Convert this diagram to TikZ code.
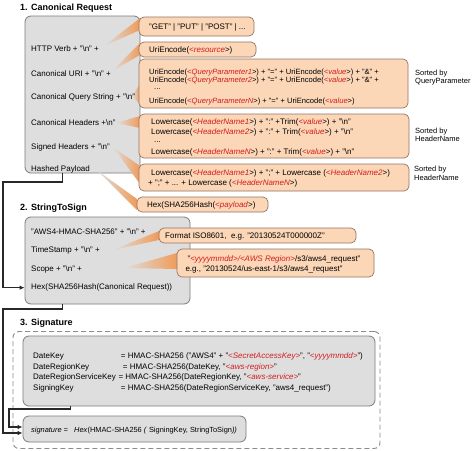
\documentclass[tikz,border=0pt]{standalone}
\usepackage{fontspec}
\setmainfont{Liberation Sans}
\usetikzlibrary{arrows.meta,calc}
\pgfdeclarelayer{back}
\pgfdeclarelayer{mid}
\pgfsetlayers{back,mid,main}
\definecolor{boxgray}{RGB}{222,222,222}
\definecolor{boxedge}{RGB}{125,125,125}
\definecolor{peach}{RGB}{251,214,183}
\definecolor{peachedge}{RGB}{150,118,98}
\definecolor{wedgec}{RGB}{240,155,90}
\definecolor{redtxt}{RGB}{210,30,30}
\definecolor{linecol}{RGB}{40,40,40}
\definecolor{dashcol}{RGB}{140,140,140}
\newcommand{\rt}[1]{\textcolor{redtxt}{\textit{#1}}}
\newcommand{\bsn}{\textbackslash n}
\begin{document}
\begin{tikzpicture}[x=1pt,y=-1pt,
 txt/.style={anchor=base west,inner sep=0pt,font=\fontsize{8}{9.6}\selectfont},
 qtxt/.style={anchor=base west,inner sep=0pt,font=\fontsize{7.6}{9}\selectfont},
 note/.style={anchor=base west,inner sep=0pt,font=\fontsize{7.5}{9}\selectfont},
 sigt/.style={anchor=base west,inner sep=0pt,font=\fontsize{7.4}{9}\selectfont},
 ttl/.style={anchor=base west,inner sep=0pt,font=\bfseries\fontsize{9}{11}\selectfont},
 gbox/.style={draw=boxedge,fill=boxgray,rounded corners=6pt,line width=0.8pt,inner sep=0pt},
 obox/.style={draw=peachedge,fill=peach,rounded corners=5pt,line width=0.7pt,inner sep=0pt},
 dbox/.style={draw=dashcol,dash pattern=on 5pt off 3pt,rounded corners=6pt,line width=0.9pt,inner sep=0pt},
 conn/.style={draw=linecol,line width=1.1pt,-{Latex[length=5pt,width=4.5pt]}},
 wedge/.style={left color=boxgray,right color=wedgec},
]
\begin{pgfonlayer}{back}
\fill[white] (0,0) rectangle (474,450);
\end{pgfonlayer}
\useasboundingbox (0,0) rectangle (474,450);

% ---------- 1. Canonical Request ----------
\node[ttl] (h1) at (20,10.5) {1. Canonical Request};
\begin{pgfonlayer}{back}
\node[gbox,minimum width=115pt,minimum height=157pt] (cr) at (82.5,94.5) {};
\end{pgfonlayer}
\begin{pgfonlayer}{mid}
\shade[wedge] (104,46) -- (140,18) -- (140,30) -- cycle;
\shade[wedge] (112,71) -- (140,43) -- (140,55) -- cycle;
\shade[wedge] (132,96) -- (140,84) -- (140,104) -- cycle;
\shade[wedge] (116,123) -- (140,116) -- (140,128) -- cycle;
\shade[wedge] (113,147) -- (140,166) -- (140,184) -- cycle;
\shade[wedge] (98,171) -- (137,199) -- (137,210) -- cycle;
\end{pgfonlayer}
\node[txt] (t1) at (31,51) {HTTP Verb + "\bsn" +};
\node[txt] (t2) at (31,76) {Canonical URI + "\bsn" +};
\node[txt] (t3) at (31,99.5) {Canonical Query String + "\bsn"};
\node[txt] (t4) at (31,125) {Canonical Headers +\bsn"};
\node[txt] (t5) at (31,149) {Signed Headers + "\bsn"};
\node[txt] (hp) at (31,171) {Hashed Payload};

\node[obox,minimum width=115pt,minimum height=19pt] (o1) at (196.5,26.5) {};
\node[txt] (o1t) at (149,29.5) {"GET" | "PUT" | "POST" | ...};
\node[obox,minimum width=117pt,minimum height=15pt] (o2) at (197.5,49.5) {};
\node[txt] (o2t) at (149,52.5) {UriEncode(\rt{<resource}>)};
\node[obox,minimum width=269pt,minimum height=49pt] (o3) at (273.5,83.5) {};
\node[qtxt] (q1) at (149,74) {UriEncode(\rt{<QueryParameter1}>) + "=" + UriEncode(\rt{<value}>) + "\&" +};
\node[qtxt] (q2) at (149,82.6) {UriEncode(\rt{<QueryParameter2}>) + "=" + UriEncode(\rt{<value}>) + "\&" +};
\node[qtxt] (q3) at (154,89.5) {...};
\node[qtxt] (q4) at (149,103) {UriEncode(\rt{<QueryParameterN}>) + "=" + UriEncode(\rt{<value}>)};
\node[note] (n1a) at (415,75) {Sorted by};
\node[note] (n1b) at (415,83) {QueryParameter};

\node[obox,minimum width=270pt,minimum height=44pt] (o4) at (274,136) {};
\node[txt] (c1) at (151,124.7) {Lowercase(\rt{<HeaderName1}>) + ":" +Trim(\rt{<value}>) + "\bsn"};
\node[txt] (c2) at (151,134) {Lowercase(\rt{<HeaderName2}>) + ":" + Trim(\rt{<value}>) + "\bsn"};
\node[txt] (c3) at (154,142.5) {...};
\node[txt] (c4) at (151,154) {Lowercase(\rt{<HeaderNameN}>) + ":" + Trim(\rt{<value}>) + "\bsn"};
\node[note] (n2a) at (415,133) {Sorted by};
\node[note] (n2b) at (415,141.3) {HeaderName};

\node[obox,minimum width=270pt,minimum height=27pt] (o5) at (274,177.5) {};
\node[txt] (d1) at (151,175.7) {Lowercase(\rt{<HeaderName1}>) + ";" + Lowercase (\rt{<HeaderName2}>)};
\node[txt] (d2) at (148,185) {+ ";" + ... + Lowercase (\rt{<HeaderNameN}>)};
\node[note] (n3a) at (414,171) {Sorted by};
\node[note] (n3b) at (414,180.7) {HeaderName};

\node[obox,minimum width=131pt,minimum height=15pt] (o6) at (202.5,204.5) {};
\node[txt] (o6t) at (147,207.5) {Hex(SHA256Hash(\rt{<payload}>)};

% ---------- 2. StringToSign ----------
\node[ttl] (h2) at (20,210.5) {2. StringToSign};
\begin{pgfonlayer}{back}
\node[gbox,minimum width=165pt,minimum height=87pt] (sts) at (107.5,260.5) {};
\end{pgfonlayer}
\begin{pgfonlayer}{mid}
\shade[wedge] (113,250) -- (159,231) -- (159,240) -- cycle;
\shade[wedge] (124,268) -- (177,253) -- (177,269) -- cycle;
\end{pgfonlayer}
\node[txt] (s1) at (31,234) {"AWS4-HMAC-SHA256" + "\bsn" +};
\node[txt] (s2) at (31,252.3) {TimeStamp + "\bsn" +};
\node[txt] (s3) at (31,271.3) {Scope + "\bsn" +};
\node[txt] (hexcr) at (31,289.7) {Hex(SHA256Hash(Canonical Request))};

\node[obox,minimum width=197pt,minimum height=15pt] (o7) at (257.5,235.5) {};
\node[txt] (o7t) at (165,238.5) {Format ISO8601,\ \ e.g. "20130524T000000Z"};
\node[obox,minimum width=197pt,minimum height=28pt] (o8) at (275.5,263) {};
\node[txt,anchor=base] (o8a) at (274,261.3) {"\textcolor{redtxt}{\textit{<yyyymmdd>/<AWS Region>}}/s3/aws4\_request"};
\node[txt,anchor=base] (o8b) at (264,271.3) {e.g., "20130524/us-east-1/s3/aws4\_request"};

% ---------- 3. Signature ----------
\node[ttl] (h3) at (20,325) {3. Signature};
\begin{pgfonlayer}{back}
\node[dbox,minimum width=367pt,minimum height=117pt] (dash) at (196.5,390) {};
\node[gbox,minimum width=352pt,minimum height=70pt] (sg) at (199,371) {};
\node[gbox,minimum width=223pt,minimum height=26pt] (sigbox) at (134.5,429) {};
\end{pgfonlayer}
\node[txt] (k1) at (33,358) {DateKey};
\node[txt] (k2) at (33,369) {DateRegionKey};
\node[txt] (k3) at (33,379.7) {DateRegionServiceKey};
\node[txt] (k4) at (33,390.3) {SigningKey};
\node[txt] (v1) at (120.7,358) {= HMAC-SHA256 ("AWS4" + "\textcolor{redtxt}{\textit{<SecretAccessKey>}}", "\textcolor{redtxt}{\textit{<yyyymmdd>}}")};
\node[txt] (v2) at (122.7,369) {= HMAC-SHA256(DateKey, "\textcolor{redtxt}{\textit{<aws-region>}}"};
\node[txt] (v3) at (118.3,379.7) {= HMAC-SHA256(DateRegionKey, "\textcolor{redtxt}{\textit{<aws-service>}}"};
\node[txt] (v4) at (120.7,390.3) {= HMAC-SHA256(DateRegionServiceKey, "aws4\_request")};
\node[sigt] (sg1) at (31,432) {\textit{signature =}};
\node[sigt] (sg2) at (74,432) {\textit{Hex}(HMAC-SHA256 \textit{(} SigningKey, StringToSign\textit{))}};

% ---------- connectors ----------
\coordinate (j1) at (3,182);
\coordinate (j2) at (3,309);
\coordinate (j3) at (9,409);
\draw[conn] ($(cr.south west)+(38,0)$) |- (j1) |- (sts.west |- hexcr.west);
\draw[conn] ($(sts.south west)+(38,0)$) |- (j2) |- ($(sigbox.west)+(0,4)$);
\draw[conn] ($(sg.south west)+(48,0)$) |- (j3) |- ($(sigbox.west)+(0,-2)$);
\end{tikzpicture}
\end{document}
